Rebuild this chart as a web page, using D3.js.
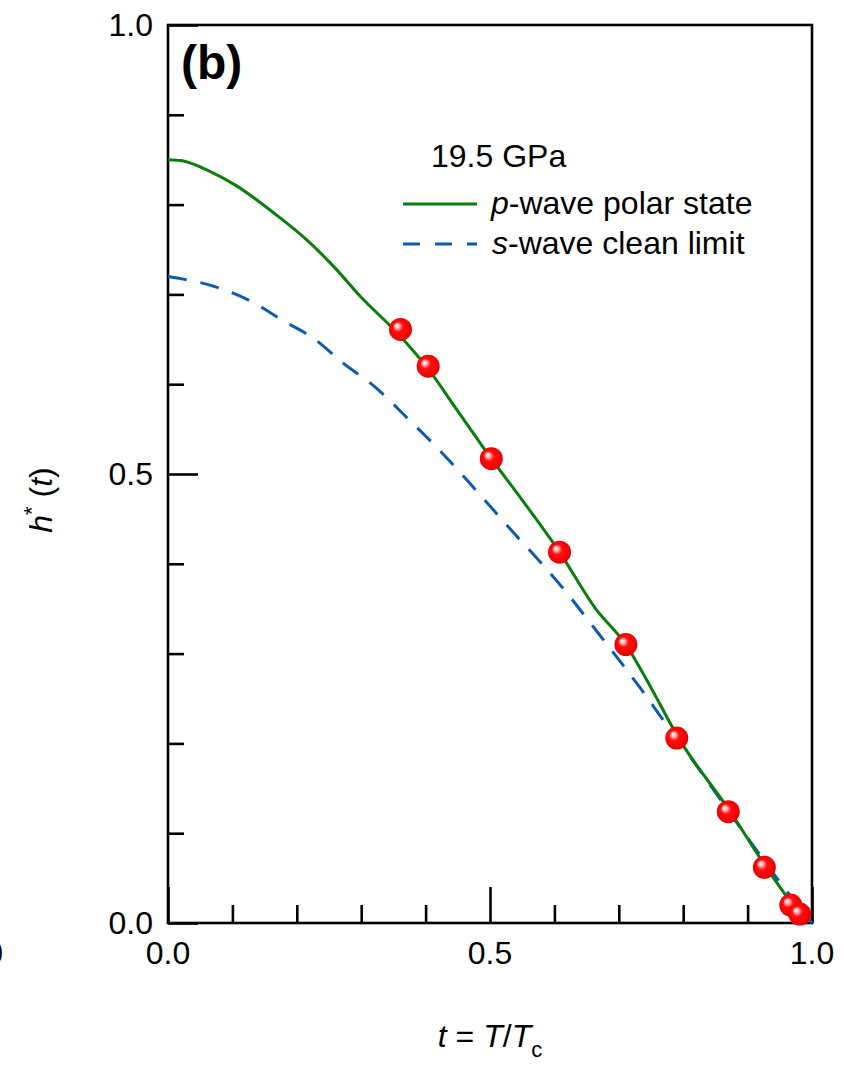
<!DOCTYPE html>
<html>
<head>
<meta charset="utf-8">
<script src="https://cdn.jsdelivr.net/npm/d3@7/dist/d3.min.js"></script>
<style>
  html, body { margin: 0; padding: 0; background: #fff; }
  svg { display: block; font-family: "Liberation Sans", Arial, Helvetica, sans-serif; }
</style>
</head>
<body>
<svg id="chart" width="844" height="1069"></svg>
<script>
// Measured h*(t) points
const dataT = [0.361, 0.404, 0.502, 0.608, 0.711, 0.790, 0.870, 0.926, 0.967, 0.981];
const dataH = [0.661, 0.620, 0.517, 0.413, 0.310, 0.206, 0.124, 0.062, 0.020, 0.010];

// p-wave polar state model curve
const polarT = [0.000, 0.020, 0.065, 0.104, 0.169, 0.215, 0.260, 0.297, 0.360, 0.404, 0.450, 0.502, 0.550, 0.608, 0.663, 0.711, 0.750, 0.792, 0.873, 0.929, 0.970, 0.990];
const polarH = [0.850, 0.849, 0.837, 0.822, 0.788, 0.761, 0.729, 0.699, 0.654, 0.617, 0.570, 0.517, 0.471, 0.413, 0.351, 0.310, 0.262, 0.207, 0.124, 0.062, 0.020, 0.000];

// s-wave clean limit model curve
const cleanT = [0.000, 0.080, 0.130, 0.178, 0.228, 0.271, 0.323, 0.372, 0.421, 0.467, 0.536, 0.578, 0.620, 0.658, 0.697, 0.733, 0.769, 0.820, 0.870, 0.920, 0.960, 1.000];
const cleanH = [0.720, 0.707, 0.692, 0.671, 0.650, 0.624, 0.596, 0.562, 0.527, 0.491, 0.435, 0.402, 0.367, 0.332, 0.296, 0.262, 0.226, 0.176, 0.125, 0.075, 0.036, 0.000];

const xMajor = [0, 0.5, 1.0];
const xMinor = [0.1, 0.2, 0.3, 0.4, 0.6, 0.7, 0.8, 0.9];
const yMajor = [0, 0.5, 1.0];
const yMinor = [0.1, 0.2, 0.3, 0.4, 0.6, 0.7, 0.8, 0.9];
const tickLabels = ["0.0", "0.5", "1.0"];

const pressureLabel = "19.5 GPa";

const svg = d3.select("#chart");
const L = 168, R = 812, T = 25, B = 923;
const FS = 32;

const x = d3.scaleLinear().domain([0, 1]).range([L, R]);
const y = d3.scaleLinear().domain([0, 1]).range([B, T]);

const defs = svg.append("defs");
const grad = defs.append("radialGradient")
  .attr("id", "ball").attr("cx", "50%").attr("cy", "50%").attr("r", "55%")
  .attr("fx", "32%").attr("fy", "32%");
grad.append("stop").attr("offset", "0%").attr("stop-color", "#ffffff");
grad.append("stop").attr("offset", "15%").attr("stop-color", "#ffc8c8");
grad.append("stop").attr("offset", "40%").attr("stop-color", "#ff1010");
grad.append("stop").attr("offset", "85%").attr("stop-color", "#f00000");
grad.append("stop").attr("offset", "100%").attr("stop-color", "#c80000");

// Frame
svg.append("rect")
  .attr("x", L).attr("y", T).attr("width", R - L).attr("height", B - T)
  .attr("fill", "none").attr("stroke", "#000").attr("stroke-width", 2.6);

// Bottom axis ticks (inward)
const xAxis = d3.axisTop(x).tickValues(xMajor).tickSize(36).tickFormat("");
const gx = svg.append("g").attr("transform", `translate(0,${B})`).call(xAxis);
const xAxisMinor = d3.axisTop(x).tickValues(xMinor).tickSize(18).tickFormat("");
const gxm = svg.append("g").attr("transform", `translate(0,${B})`).call(xAxisMinor);

// Left axis ticks (inward)
const yAxis = d3.axisRight(y).tickValues(yMajor).tickSize(30).tickFormat("");
const gy = svg.append("g").attr("transform", `translate(${L},0)`).call(yAxis);
const yAxisMinor = d3.axisRight(y).tickValues(yMinor).tickSize(16).tickFormat("");
const gym = svg.append("g").attr("transform", `translate(${L},0)`).call(yAxisMinor);

[gx, gxm, gy, gym].forEach(g => {
  g.select(".domain").remove();
  g.selectAll("line").attr("stroke", "#000").attr("stroke-width", 2.6);
});

// Tick labels
svg.append("g").selectAll("text").data(xMajor).join("text")
  .attr("x", d => x(d)).attr("y", 964)
  .attr("text-anchor", "middle").attr("font-size", FS)
  .text((d, i) => tickLabels[i]);
svg.append("g").selectAll("text").data(yMajor).join("text")
  .attr("x", 153).attr("y", d => y(d) + 11)
  .attr("text-anchor", "end").attr("font-size", FS)
  .text((d, i) => tickLabels[i]);

// Neighbouring panel's edge label
svg.append("text").attr("x", 3).attr("y", 964)
  .attr("text-anchor", "end").attr("font-size", FS).text("1.0");

// Axis titles
const xt = svg.append("text").attr("x", 490).attr("y", 1047)
  .attr("text-anchor", "middle").attr("font-size", FS);
xt.append("tspan").attr("font-style", "italic").text("t");
xt.append("tspan").text(" = ");
xt.append("tspan").attr("font-style", "italic").text("T");
xt.append("tspan").text("/");
xt.append("tspan").attr("font-style", "italic").text("T");
xt.append("tspan").attr("font-size", 22).attr("dy", 10).text("c");

const yt = svg.append("text")
  .attr("transform", "translate(52,500) rotate(-90)")
  .attr("text-anchor", "middle").attr("font-size", FS);
yt.append("tspan").attr("font-style", "italic").text("h");
yt.append("tspan").attr("font-size", 22).attr("dy", -13).text("*");
yt.append("tspan").attr("dy", 13).text(" (");
yt.append("tspan").attr("font-style", "italic").text("t");
yt.append("tspan").text(")");

// Panel letter
svg.append("text").attr("x", 181).attr("y", 79)
  .attr("font-size", 48).attr("font-weight", "bold").text("(b)");

// Model curves
const line = d3.line().x(d => x(d[0])).y(d => y(d[1])).curve(d3.curveMonotoneX);

svg.append("path")
  .datum(cleanT.map((t, i) => [t, cleanH[i]]))
  .attr("d", line).attr("fill", "none")
  .attr("stroke", "#0b5cb0").attr("stroke-width", 3)
  .attr("stroke-dasharray", "19,14");

svg.append("path")
  .datum(polarT.map((t, i) => [t, polarH[i]]))
  .attr("d", line).attr("fill", "none")
  .attr("stroke", "#0a7d0a").attr("stroke-width", 3);

// Data spheres
svg.append("g").selectAll("circle")
  .data(dataT.map((t, i) => [t, dataH[i]]))
  .join("circle")
  .attr("cx", d => x(d[0])).attr("cy", d => y(d[1])).attr("r", 11.5)
  .attr("fill", "url(#ball)");

// Legend
svg.append("text").attr("x", 431).attr("y", 167).attr("font-size", FS).text(pressureLabel);

const leg = svg.append("g");
leg.append("line").attr("x1", 403).attr("x2", 477).attr("y1", 204).attr("y2", 204)
  .attr("stroke", "#0a7d0a").attr("stroke-width", 3);
const l1 = leg.append("text").attr("x", 491).attr("y", 214).attr("font-size", FS);
l1.append("tspan").attr("font-style", "italic").text("p");
l1.append("tspan").text("-wave polar state");

leg.append("line").attr("x1", 403).attr("x2", 477).attr("y1", 244).attr("y2", 244)
  .attr("stroke", "#0b5cb0").attr("stroke-width", 3).attr("stroke-dasharray", "17,15");
const l2 = leg.append("text").attr("x", 492).attr("y", 254).attr("font-size", FS);
l2.append("tspan").attr("font-style", "italic").text("s");
l2.append("tspan").text("-wave clean limit");
</script>
</body>
</html>
